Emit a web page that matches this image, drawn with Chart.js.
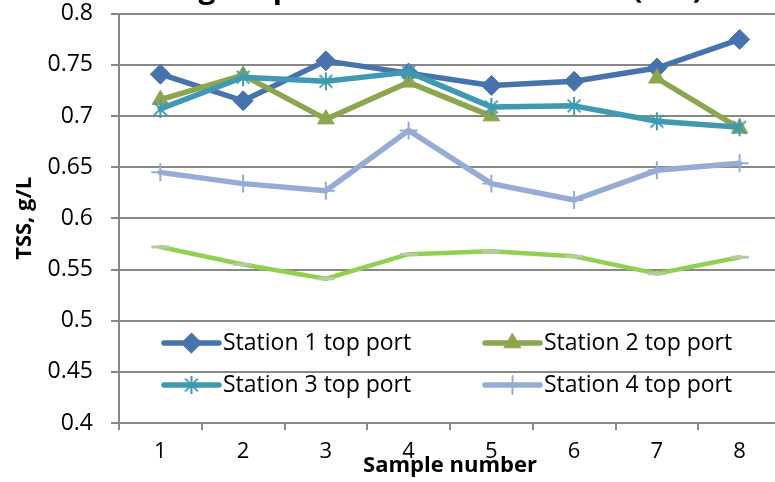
<!DOCTYPE html>
<html>
<head>
<meta charset="utf-8">
<script src="https://cdn.jsdelivr.net/npm/chart.js@4.4.1/dist/chart.umd.min.js"></script>
<style>
  html, body { margin: 0; padding: 0; background: #fff; overflow: hidden; }
  #wrap { width: 775px; height: 482px; overflow: hidden; position: relative; }
  canvas { display: block; margin-top: -18px; }
</style>
</head>
<body>
<div id="wrap"><canvas id="tss" width="800" height="500"></canvas></div>
<script>
// Sample numbers along the x axis
const samples = ['1', '2', '3', '4', '5', '6', '7', '8'];

// TSS readings, g/L
const station1 = [0.741, 0.715, 0.754, 0.742, 0.730, 0.734, 0.747, 0.775];
const station2 = [0.716, 0.740, 0.697, 0.733, 0.700, null, 0.737, 0.688];
const station3 = [0.707, 0.738, 0.734, 0.743, 0.709, 0.710, 0.695, 0.689];
const station4 = [0.645, 0.634, 0.627, 0.686, 0.634, 0.618, 0.647, 0.654];
const station5 = [0.572, 0.555, 0.541, 0.565, 0.568, 0.563, 0.546, 0.562];

const seriesNames = ['Station 1 top port', 'Station 2 top port', 'Station 3 top port', 'Station 4 top port'];
const yTickLabels = ['0.4', '0.45', '0.5', '0.55', '0.6', '0.65', '0.7', '0.75', '0.8'];

const chartTitle = 'Average top station solids content (TSS)';
const xTitle = 'Sample number';
const yTitle = 'TSS, g/L';

const FONT = '"Open Sans", Lato, sans-serif';
const GRID = '#888888';
const COLORS = ['#4673ab', '#8ba64f', '#3f9ab1', '#96acd5', '#92d050'];
const SHIFT = 18; // canvas is pulled up by this much

// Asterisk marker: vertical bar plus an X
function asteriskMarker(color, size) {
  const c = document.createElement('canvas');
  c.width = c.height = size;
  const g = c.getContext('2d');
  const m = size / 2, r = size / 2 - 1;
  const d = r * Math.SQRT1_2;
  g.strokeStyle = color;
  g.lineWidth = 2;
  g.beginPath();
  g.moveTo(m, m - r); g.lineTo(m, m + r);
  g.moveTo(m - d, m - d); g.lineTo(m + d, m + d);
  g.moveTo(m + d, m - d); g.lineTo(m - d, m + d);
  g.stroke();
  return c;
}
const starImg = asteriskMarker(COLORS[2], 20);

function series(label, data, color, style, radius, order, extra) {
  return Object.assign({
    label: label,
    data: data,
    borderColor: color,
    backgroundColor: color,
    borderWidth: 5.5,
    borderJoinStyle: 'round',
    borderCapStyle: 'round',
    tension: 0,
    pointStyle: style,
    pointRadius: radius,
    pointHoverRadius: radius,
    pointBackgroundColor: color,
    pointBorderColor: color,
    pointBorderWidth: 1,
    order: order,
    spanGaps: false
  }, extra || {});
}

const datasets = [
  series(seriesNames[0], station1, COLORS[0], 'rectRot', 10, 5),
  series(seriesNames[1], station2, COLORS[1], 'triangle', 9.5, 4),
  series(seriesNames[2], station3, COLORS[2], starImg, 10, 3),
  series(seriesNames[3], station4, COLORS[3], 'cross', 9, 2, { pointBorderWidth: 2 }),
  series('', station5, COLORS[4], 'line', 9, 1, { borderWidth: 4.5, pointBorderColor: '#b9c9a8', pointBorderWidth: 3 })
];

// Legend inside the plot area, two columns
const legendSlots = [
  { x: 164, y: 343 }, { x: 485, y: 343 },
  { x: 164, y: 385 }, { x: 485, y: 385 }
];

const decorations = {
  id: 'decorations',
  afterDraw(chart) {
    const ctx = chart.ctx;
    const area = chart.chartArea;
    ctx.save();
    ctx.translate(0, SHIFT);

    // chart title (runs off the top edge)
    ctx.fillStyle = '#000';
    ctx.font = 'bold 30px ' + FONT;
    ctx.textAlign = 'right';
    ctx.textBaseline = 'alphabetic';
    ctx.fillText(chartTitle, 703, -2);

    // x axis title
    ctx.font = 'bold 22px ' + FONT;
    ctx.textAlign = 'center';
    ctx.textBaseline = 'middle';
    ctx.fillText(xTitle, 450, 466);

    // y axis title
    ctx.save();
    ctx.translate(25, (area.top + area.bottom) / 2 - SHIFT);
    ctx.rotate(-Math.PI / 2);
    ctx.fillText(yTitle, 0, 0);
    ctx.restore();

    // legend
    const drawPoint = Chart.helpers && Chart.helpers.drawPoint;
    ctx.font = '23px ' + FONT;
    ctx.textAlign = 'left';
    ctx.textBaseline = 'middle';
    legendSlots.forEach((slot, i) => {
      const ds = chart.data.datasets[i];
      ctx.strokeStyle = ds.borderColor;
      ctx.lineWidth = 5.5;
      ctx.lineCap = 'round';
      ctx.beginPath();
      ctx.moveTo(slot.x, slot.y);
      ctx.lineTo(slot.x + 55, slot.y);
      ctx.stroke();
      if (drawPoint) {
        ctx.fillStyle = ds.pointBackgroundColor;
        ctx.strokeStyle = ds.pointBorderColor;
        ctx.lineWidth = ds.pointBorderWidth;
        drawPoint(ctx, {
          pointStyle: ds.pointStyle,
          radius: ds.pointRadius,
          borderWidth: ds.pointBorderWidth,
          rotation: 0
        }, slot.x + 27.5, slot.y);
      }
      ctx.fillStyle = '#000';
      ctx.fillText(ds.label, slot.x + 59, slot.y);
    });
    ctx.restore();
  }
};

new Chart(document.getElementById('tss'), {
  type: 'line',
  data: { labels: samples, datasets: datasets },
  options: {
    responsive: false,
    animation: false,
    layout: { autoPadding: false, padding: { top: 15, right: 19, left: 0, bottom: 0 } },
    plugins: { legend: { display: false }, tooltip: { enabled: false }, title: { display: false } },
    scales: {
      x: {
        type: 'category',
        offset: true,
        grid: { offset: true, drawOnChartArea: false, color: GRID, lineWidth: 2, tickLength: 7 },
        border: { color: GRID, width: 2 },
        ticks: { color: '#000', font: { family: FONT, size: 22 }, padding: 9, maxRotation: 0 },
        afterFit(scale) { scale.height = 59; }
      },
      y: {
        min: 0.4,
        max: 0.8,
        grid: { color: GRID, lineWidth: 2, tickLength: 8 },
        border: { color: GRID, width: 2 },
        ticks: {
          stepSize: 0.05,
          color: '#000',
          font: { family: FONT, size: 23 },
          padding: 18,
          callback: (v, i) => yTickLabels[i]
        },
        afterFit(scale) { scale.width = 119; }
      }
    }
  },
  plugins: [decorations]
});
</script>
</body>
</html>
